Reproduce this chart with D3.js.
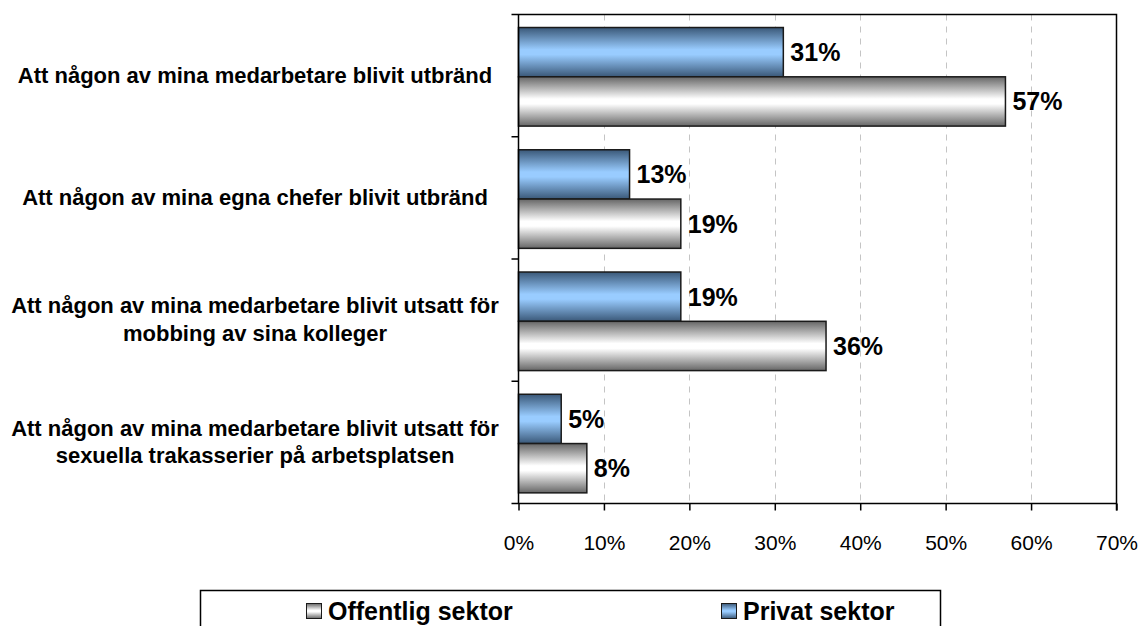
<!DOCTYPE html>
<html>
<head>
<meta charset="utf-8">
<script src="https://cdn.jsdelivr.net/npm/d3@7"></script>
<style>
  body { margin: 0; background: #fff; }
  svg { display: block; font-family: "Liberation Sans", Arial, sans-serif; }
</style>
</head>
<body>
<svg id="chart" width="1139" height="626"></svg>
<script>
var categories = [
    ["Att någon av mina medarbetare blivit utbränd"],
    ["Att någon av mina egna chefer blivit utbränd"],
    ["Att någon av mina medarbetare blivit utsatt för", "mobbing av sina kolleger"],
    ["Att någon av mina medarbetare blivit utsatt för", "sexuella trakasserier på arbetsplatsen"]
];
var seriesNames = ["Privat sektor", "Offentlig sektor"];
var privat = [31, 13, 19, 5];
var offentlig = [57, 19, 36, 8];
var xTicks = [0, 10, 20, 30, 40, 50, 60, 70];
var legendItems = ["Offentlig sektor", "Privat sektor"];

var svg = d3.select("#chart");
var pLeft = 518.5, pRight = 1116.5, pTop = 14.5, pBottom = 503.5;

// gradients
var defs = svg.append("defs");
function grad(id, edge, mid) {
    var g = defs.append("linearGradient").attr("id", id)
        .attr("x1", 0).attr("y1", 0).attr("x2", 0).attr("y2", 1);
    g.append("stop").attr("offset", "0%").attr("stop-color", edge);
    g.append("stop").attr("offset", "45%").attr("stop-color", mid);
    g.append("stop").attr("offset", "55%").attr("stop-color", mid);
    g.append("stop").attr("offset", "100%").attr("stop-color", edge);
}
grad("gBlue", "#3a5878", "#99ccff");
grad("gGray", "#666666", "#ffffff");
var fills = {"Privat sektor": "url(#gBlue)", "Offentlig sektor": "url(#gGray)"};

var x = d3.scaleLinear().domain([0, 70]).range([pLeft, pRight]);
var y0 = d3.scaleBand().domain(d3.range(categories.length)).range([pTop, pBottom]);
var y1 = d3.scaleBand().domain(seriesNames).range([0, y0.bandwidth()])
    .paddingOuter(0.24).align(0.55);

// grid
svg.append("g").selectAll("line")
    .data(xTicks.slice(1, -1))
    .join("line")
    .attr("x1", d => Math.round(x(d)) + 0.5).attr("x2", d => Math.round(x(d)) + 0.5)
    .attr("y1", pTop).attr("y2", pBottom)
    .attr("stroke", "#c4c4c4").attr("stroke-dasharray", "6,6");

// plot border top/right
svg.append("path")
    .attr("d", "M" + (pLeft - 7) + "," + pTop + "H" + pRight + "V" + (pBottom + 7))
    .attr("fill", "none").attr("stroke", "#000").attr("stroke-width", 1.5);

// bars
var rows = categories.map(function (c, i) {
    return [{s: "Privat sektor", v: privat[i]}, {s: "Offentlig sektor", v: offentlig[i]}];
});
var g = svg.append("g").selectAll("g").data(rows).join("g")
    .attr("transform", (d, i) => "translate(0," + y0(i) + ")");
g.selectAll("rect").data(d => d).join("rect")
    .attr("x", x(0))
    .attr("y", d => y1(d.s))
    .attr("width", d => x(d.v) - x(0))
    .attr("height", y1.bandwidth())
    .attr("fill", d => fills[d.s])
    .attr("stroke", "#1a1a1a").attr("stroke-width", 1.5);
g.selectAll("text").data(d => d).join("text")
    .attr("x", d => x(d.v) + 7)
    .attr("y", d => y1(d.s) + y1.bandwidth() / 2)
    .attr("dy", "0.36em")
    .attr("font-size", 25).attr("font-weight", "bold")
    .text(d => d.v + "%");

// x axis
var xAxis = svg.append("g").attr("transform", "translate(0," + pBottom + ")")
    .call(d3.axisBottom(x).tickValues(xTicks).tickFormat(d => d + "%").tickSize(7).tickSizeOuter(0));
xAxis.select(".domain").attr("d", "M" + (pLeft - 7) + ",0H" + pRight).attr("stroke-width", 1.5);
xAxis.selectAll(".tick line").attr("stroke-width", 1.5);
xAxis.selectAll(".tick text").attr("font-size", 21).attr("font-family", null)
    .attr("y", 46).attr("dy", null).attr("fill", "#000");

// y axis with ticks at band edges
svg.append("line").attr("x1", pLeft).attr("x2", pLeft).attr("y1", pTop).attr("y2", pBottom)
    .attr("stroke", "#000").attr("stroke-width", 1.5);
svg.append("g").selectAll("line")
    .data(d3.range(1, categories.length))
    .join("line")
    .attr("x1", pLeft - 7).attr("x2", pLeft)
    .attr("y1", d => y0(d)).attr("y2", d => y0(d))
    .attr("stroke", "#000").attr("stroke-width", 1.5);

// category labels
var lab = svg.append("g").selectAll("text").data(categories).join("text")
    .attr("text-anchor", "middle")
    .attr("font-size", 22).attr("font-weight", "bold")
    .attr("transform", (d, i) => "translate(255," + (y0(i) + y0.bandwidth() / 2) + ")");
lab.selectAll("tspan").data(d => d).join("tspan")
    .attr("x", 0)
    .attr("y", (d, j, n) => (j - (n.length - 1) / 2) * 27.5 - 1)
    .attr("dy", "0.36em")
    .text(d => d);

// legend
var lg = svg.append("g");
lg.append("rect").attr("x", 200.5).attr("y", 590.5).attr("width", 740).attr("height", 60)
    .attr("fill", "#fff").attr("stroke", "#000").attr("stroke-width", 1.5);
var lx = d3.scalePoint().domain(legendItems).range([306, 721]);
var li = lg.selectAll("g").data(legendItems).join("g")
    .attr("transform", d => "translate(" + lx(d) + ",603)");
li.append("rect").attr("width", 15).attr("height", 15).attr("x", 0.5).attr("y", 0.5)
    .attr("fill", d => fills[d]).attr("stroke", "#1a1a1a");
li.append("text").attr("x", 22).attr("y", 8).attr("dy", "0.36em")
    .attr("font-size", 25).attr("font-weight", "bold").text(d => d);
</script>
</body>
</html>
